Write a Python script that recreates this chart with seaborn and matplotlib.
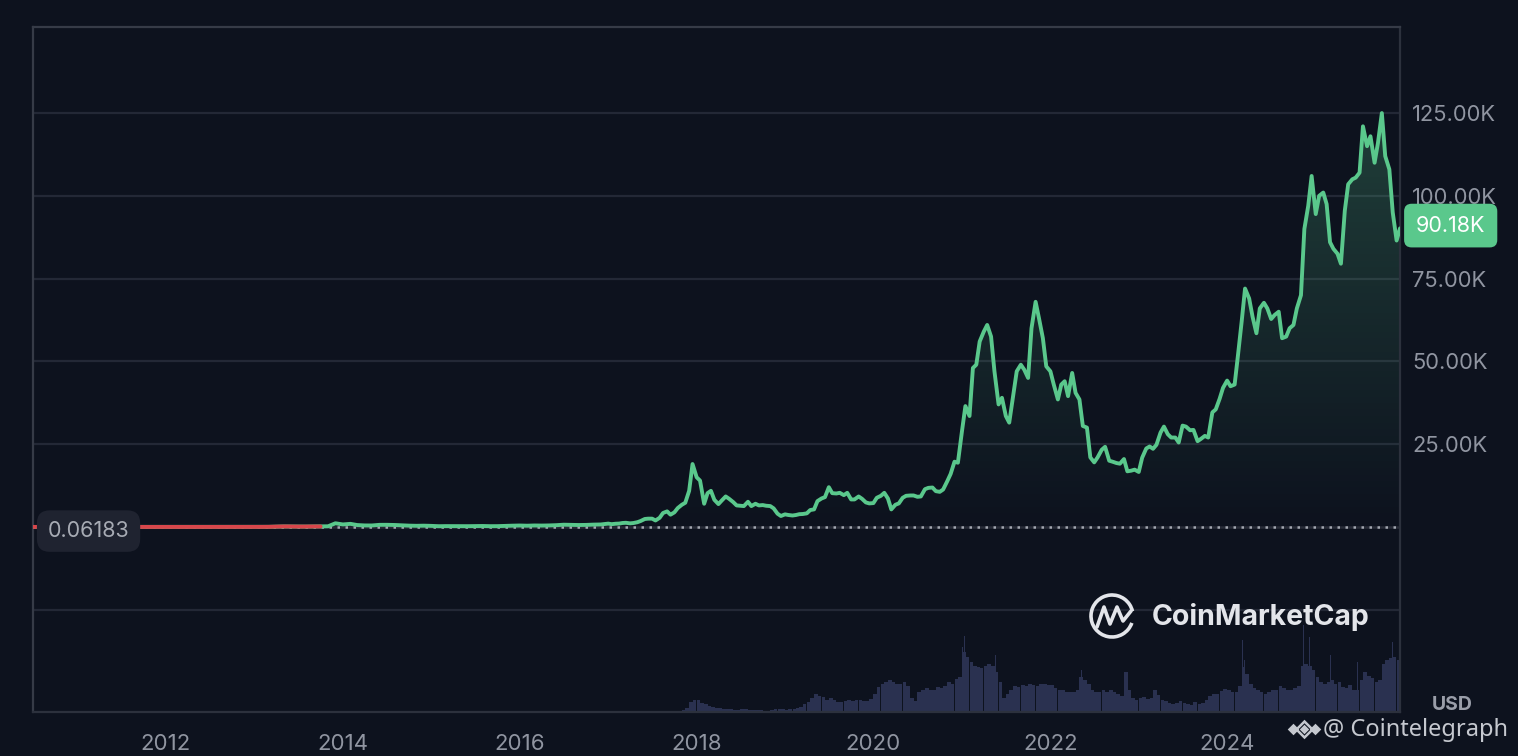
import numpy as np
import pandas as pd
import seaborn as sns
import matplotlib.pyplot as plt
import matplotlib.dates as mdates
from matplotlib.colors import LinearSegmentedColormap
from matplotlib.patches import Arc
from matplotlib.lines import Line2D

BG = '#0d121e'
GREEN = '#5ac88c'
RED = '#d8464b'
VOL_COLOR = '#2a3150'
GRID = '#232836'
TICK_COLOR = '#9095a1'

# monthly BTC price (USD), 2010-07 .. 2016-12
EARLY_PRICE = [
    0.06, 0.07, 0.06, 0.1, 0.2, 0.3,
    0.3, 0.9, 0.8, 1, 3.5, 17, 14, 9, 5, 3.2, 3, 4.7,
    5.3, 5.5, 4.9, 4.9, 5, 5.2, 6.7, 9.4, 10, 12.4, 11, 12.5,
    13.5, 20, 33, 93, 139, 129, 97, 106, 135, 133, 198, 1100,
    750, 930, 570, 450, 440, 630, 640, 590, 480, 390, 340, 380,
    320, 220, 250, 245, 235, 230, 265, 285, 230, 237, 315, 380,
    430, 370, 440, 415, 450, 530, 670, 625, 575, 610, 700, 740,
]

# semi-monthly BTC price (USD), 2017-01-01 .. 2025-12-15
PRICE_2017 = [1000, 830, 970, 1010, 1190, 1250, 1080, 1180, 1420, 1800, 2400, 2500,
              2500, 1950, 2750, 4200, 4700, 3700, 4400, 5700, 6700, 7300, 10900, 19000]
PRICE_2018 = [15000, 14000, 7000, 10200, 10900, 8200, 6900, 8000, 9200, 8500, 7500, 6500,
              6400, 6300, 7600, 6300, 7000, 6500, 6600, 6400, 6300, 5600, 4000, 3300]
PRICE_2019 = [3800, 3600, 3450, 3600, 3850, 3900, 4100, 5100, 5300, 7800, 8600, 9000,
              12000, 10200, 10100, 10300, 9600, 10300, 8300, 8300, 9200, 8500, 7400, 7100]
PRICE_2020 = [7200, 8800, 9400, 10300, 8600, 5300, 6700, 7100, 8800, 9400, 9500, 9500,
              9100, 9200, 11400, 11800, 11900, 10800, 10600, 11300, 13800, 16000, 19700, 19400]
PRICE_2021 = [29000, 36500, 33500, 48000, 49000, 56000, 59000, 61000, 57500, 47000, 37000, 39000,
              33500, 31500, 40000, 47000, 49000, 47500, 45000, 60000, 68000, 63000, 57000, 48500]
PRICE_2022 = [47000, 43000, 38500, 43000, 44000, 39500, 46500, 40500, 38500, 30500, 30000, 21000,
              19500, 21000, 23300, 24200, 20000, 19700, 19300, 19100, 20500, 16800, 17000, 17300]
PRICE_2023 = [16600, 20900, 23700, 24300, 23600, 24800, 28500, 30300, 28000, 27000, 27000, 25500,
              30600, 30300, 29200, 29300, 25900, 26600, 27500, 27000, 34600, 35500, 38700, 42000]
PRICE_2024 = [44200, 42500, 43000, 52000, 62000, 72000, 69000, 63500, 58500, 66000, 67700, 66000,
              62800, 64000, 65000, 57000, 57500, 60000, 61000, 66000, 70000, 90000, 97000, 106000]
PRICE_2025 = [94500, 100000, 101000, 97500, 86000, 84000, 82500, 79500, 95500, 103500, 105000, 105500,
              107000, 121000, 115000, 118000, 110000, 116000, 125000, 112000, 108000, 95000, 86500, 90180]

# semi-monthly volume (billion USD), same dates
VOL_2017 = [1, 1, 1, 1, 1, 1, 1, 1, 2, 2, 3, 3, 3, 3, 3, 3, 4, 4, 5, 6, 10, 16, 40, 48]
VOL_2018 = [48, 36, 32, 24, 20, 16, 16, 12, 12, 12, 8, 8, 12, 12, 8, 8, 8, 8, 4, 4, 8, 12, 12, 12]
VOL_2019 = [8, 12, 12, 16, 20, 32, 40, 56, 72, 64, 60, 48, 56, 48, 40, 40, 44, 48, 44, 48, 48, 44, 44, 52]
VOL_2020 = [72, 100, 112, 120, 128, 120, 112, 112, 120, 104, 56, 44, 80, 88, 96, 88, 88, 100, 96, 104, 120, 112, 132, 140]
VOL_2021 = [240, 220, 200, 184, 180, 176, 184, 192, 184, 160, 120, 56, 72, 88, 104, 100, 108, 104, 112, 108, 104, 112, 112, 108]
VOL_2022 = [108, 96, 88, 88, 80, 80, 80, 88, 140, 128, 112, 88, 80, 80, 88, 80, 88, 80, 72, 64, 160, 88, 56, 48]
VOL_2023 = [56, 60, 52, 56, 88, 68, 48, 44, 36, 32, 36, 44, 36, 32, 28, 40, 32, 36, 48, 64, 72, 72, 84, 92]
VOL_2024 = [88, 80, 80, 104, 180, 152, 112, 96, 88, 80, 72, 80, 88, 88, 104, 96, 88, 88, 96, 104, 184, 192, 184, 168]
VOL_2025 = [140, 120, 112, 120, 128, 112, 120, 100, 96, 108, 88, 88, 128, 160, 144, 136, 120, 128, 192, 208, 216, 220, 208, 200]

SPIKE_DATES = ['2021-01-04', '2021-01-11', '2021-02-23', '2021-05-19', '2022-05-10',
               '2022-06-13', '2022-11-09', '2023-03-13', '2024-03-05', '2024-03-12',
               '2024-11-12', '2024-11-21', '2024-12-05', '2025-03-03', '2025-04-07',
               '2025-06-22', '2025-10-10', '2025-11-14', '2025-11-21', '2025-12-02']
SPIKE_VOL = [260, 304, 230, 230, 168, 170, 300, 148, 288, 210,
             348, 280, 300, 230, 250, 200, 300, 280, 310, 260]

YEAR_TICKS = [2012, 2014, 2016, 2018, 2020, 2022, 2024]
PRICE_TICKS = [25000, 50000, 75000, 100000, 125000]
GRID_LEVELS = [-25000] + PRICE_TICKS
START_PRICE = 0.06183

sns.set_theme(style='dark', rc={
    'figure.facecolor': BG,
    'axes.facecolor': BG,
})
plt.rcParams['font.family'] = ['Inter', 'DejaVu Sans']

early_dates = pd.date_range('2010-07-01', '2016-12-01', freq='MS')
late_dates = pd.date_range('2017-01-01', '2025-12-15', freq='SMS')
prices = EARLY_PRICE + PRICE_2017 + PRICE_2018 + PRICE_2019 + PRICE_2020 + \
    PRICE_2021 + PRICE_2022 + PRICE_2023 + PRICE_2024 + PRICE_2025
df = pd.DataFrame({'date': early_dates.append(late_dates), 'price': prices})
volume = VOL_2017 + VOL_2018 + VOL_2019 + VOL_2020 + VOL_2021 + \
    VOL_2022 + VOL_2023 + VOL_2024 + VOL_2025
vol = pd.DataFrame({'date': late_dates, 'volume': volume})
spikes = pd.DataFrame({'date': pd.to_datetime(SPIKE_DATES), 'volume': SPIKE_VOL})

W, H = 1518, 756


def px(x, y):
    return x / W, 1 - y / H


fig = plt.figure(figsize=(W / 100, H / 100), dpi=100)
rect = [33 / W, 1 - 712 / H, (1400 - 33) / W, (712 - 27) / H]

# volume pane behind the price axes
vax = fig.add_axes(rect)
vax.bar(vol['date'], vol['volume'], width=15.2, align='edge', color=VOL_COLOR, linewidth=0)
vax.bar(spikes['date'], spikes['volume'], width=2.5, color=VOL_COLOR, linewidth=0)
vax.set_ylim(0, 2740)
vax.axis('off')

ax = fig.add_axes(rect, sharex=vax)
ax.patch.set_alpha(0)

x0 = mdates.date2num(df['date'].iloc[0])
x1 = mdates.date2num(df['date'].iloc[-1])

# gradient fill under the line
cmap = LinearSegmentedColormap.from_list(
    'fade', [(0.35, 0.78, 0.55, 0.0), (0.35, 0.78, 0.55, 0.26)])
grad = np.linspace(0, 1, 256).reshape(-1, 1)
im = ax.imshow(grad, extent=[x0, x1, 0, 130000], origin='lower',
               aspect='auto', cmap=cmap, zorder=1)
poly = ax.fill_between(df['date'], df['price'], 0, color='none')
im.set_clip_path(poly.get_paths()[0], transform=ax.transData)

# dotted baseline at the first price
ax.axhline(START_PRICE, color='#272b37', lw=1.8, zorder=2)
ax.axhline(START_PRICE, color='#a3a7b1', lw=1.8, ls=(0, (1, 2.2)), zorder=2)

sns.lineplot(data=df, x='date', y='price', ax=ax, color=GREEN, lw=2.8, zorder=4)
early = df[df['date'] < '2013-11-01']
ax.plot(early['date'], early['price'], color=RED, lw=2.8, zorder=5)

ax.set_xlim(x0, x1)
ax.set_ylim(-55900, 151000)

ax.set_yticks(GRID_LEVELS)
ax.set_yticklabels([''] + [f'{v / 1000:.2f}K' for v in PRICE_TICKS])
ax.yaxis.tick_right()
ax.grid(axis='y', color=GRID, lw=1.6)
ax.grid(axis='x', visible=False)
ax.set_xticks([mdates.date2num(pd.Timestamp(f'{y}-01-01')) for y in YEAR_TICKS])
ax.set_xticklabels([str(y) for y in YEAR_TICKS])
ax.tick_params(axis='y', length=0, pad=8.6, labelsize=15.8, labelcolor=TICK_COLOR)
ax.tick_params(axis='x', length=0, pad=16, labelsize=16, labelcolor=TICK_COLOR)
ax.set_xlabel('')
ax.set_ylabel('')
for side, sp in ax.spines.items():
    sp.set_visible(True)
    sp.set_color('#2c313d' if side in ('right', 'bottom') else '#363b47')
    sp.set_linewidth(1.6)

# start price label on the left
ax.annotate('0.06183', xy=(0, START_PRICE), xycoords=('axes fraction', 'data'),
            xytext=(40, -3), textcoords='offset points', ha='center', va='center',
            fontsize=15.5, color='#a7abb4', zorder=6,
            bbox=dict(boxstyle='round,pad=0.5,rounding_size=0.6', fc='#1f2330', ec='none'))

# last price badge on the right
last = df['price'].iloc[-1]
ax.annotate(f'{last / 1000:.2f}K', xy=(1, last), xycoords=('axes fraction', 'data'),
            xytext=(36.5, 2), textcoords='offset points', ha='center', va='center',
            fontsize=15.5, color='white', annotation_clip=False, zorder=10,
            bbox=dict(boxstyle='round,pad=0.55,rounding_size=0.35', fc=GREEN, ec='none'))

# CoinMarketCap watermark
wm = '#e3e5ea'
cx, cy = px(1112, 616)
fig.add_artist(Arc((cx, cy), 42 / W, 42 / H, theta1=25, theta2=325,
                   transform=fig.transFigure, color=wm, lw=2.6))
mx = [1097, 1104, 1110, 1117, 1123, 1131]
my = [627, 607, 624, 607, 621, 611]
fig.add_artist(Line2D([x / W for x in mx], [1 - y / H for y in my],
                      transform=fig.transFigure, color=wm, lw=2.6,
                      solid_joinstyle='round', solid_capstyle='round'))
fig.text(*px(1152, 617), 'CoinMarketCap', fontsize=20.5, fontweight='bold',
         color=wm, ha='left', va='center')

fig.text(*px(1452, 705), 'USD', fontsize=14, fontweight='bold',
         color='#9a9ea9', ha='center', va='center')

# Cointelegraph credit
lc = '#c5c8cf'
for (lx, ly, ms, fill) in [(1304, 729, 8, False), (1304, 729, 3, True),
                           (1293, 729, 4, True), (1315, 729, 4, True)]:
    fig.add_artist(Line2D([lx / W], [1 - ly / H], transform=fig.transFigure,
                          marker='D', ms=ms, mew=1.8, mec=lc,
                          mfc=lc if fill else 'none', ls='none'))
fig.text(*px(1323, 730), '@ Cointelegraph', fontsize=17, family=['Noto Sans', 'DejaVu Sans'],
         color=lc, ha='left', va='center')

fig.savefig('out.png', dpi=100, facecolor=BG)
